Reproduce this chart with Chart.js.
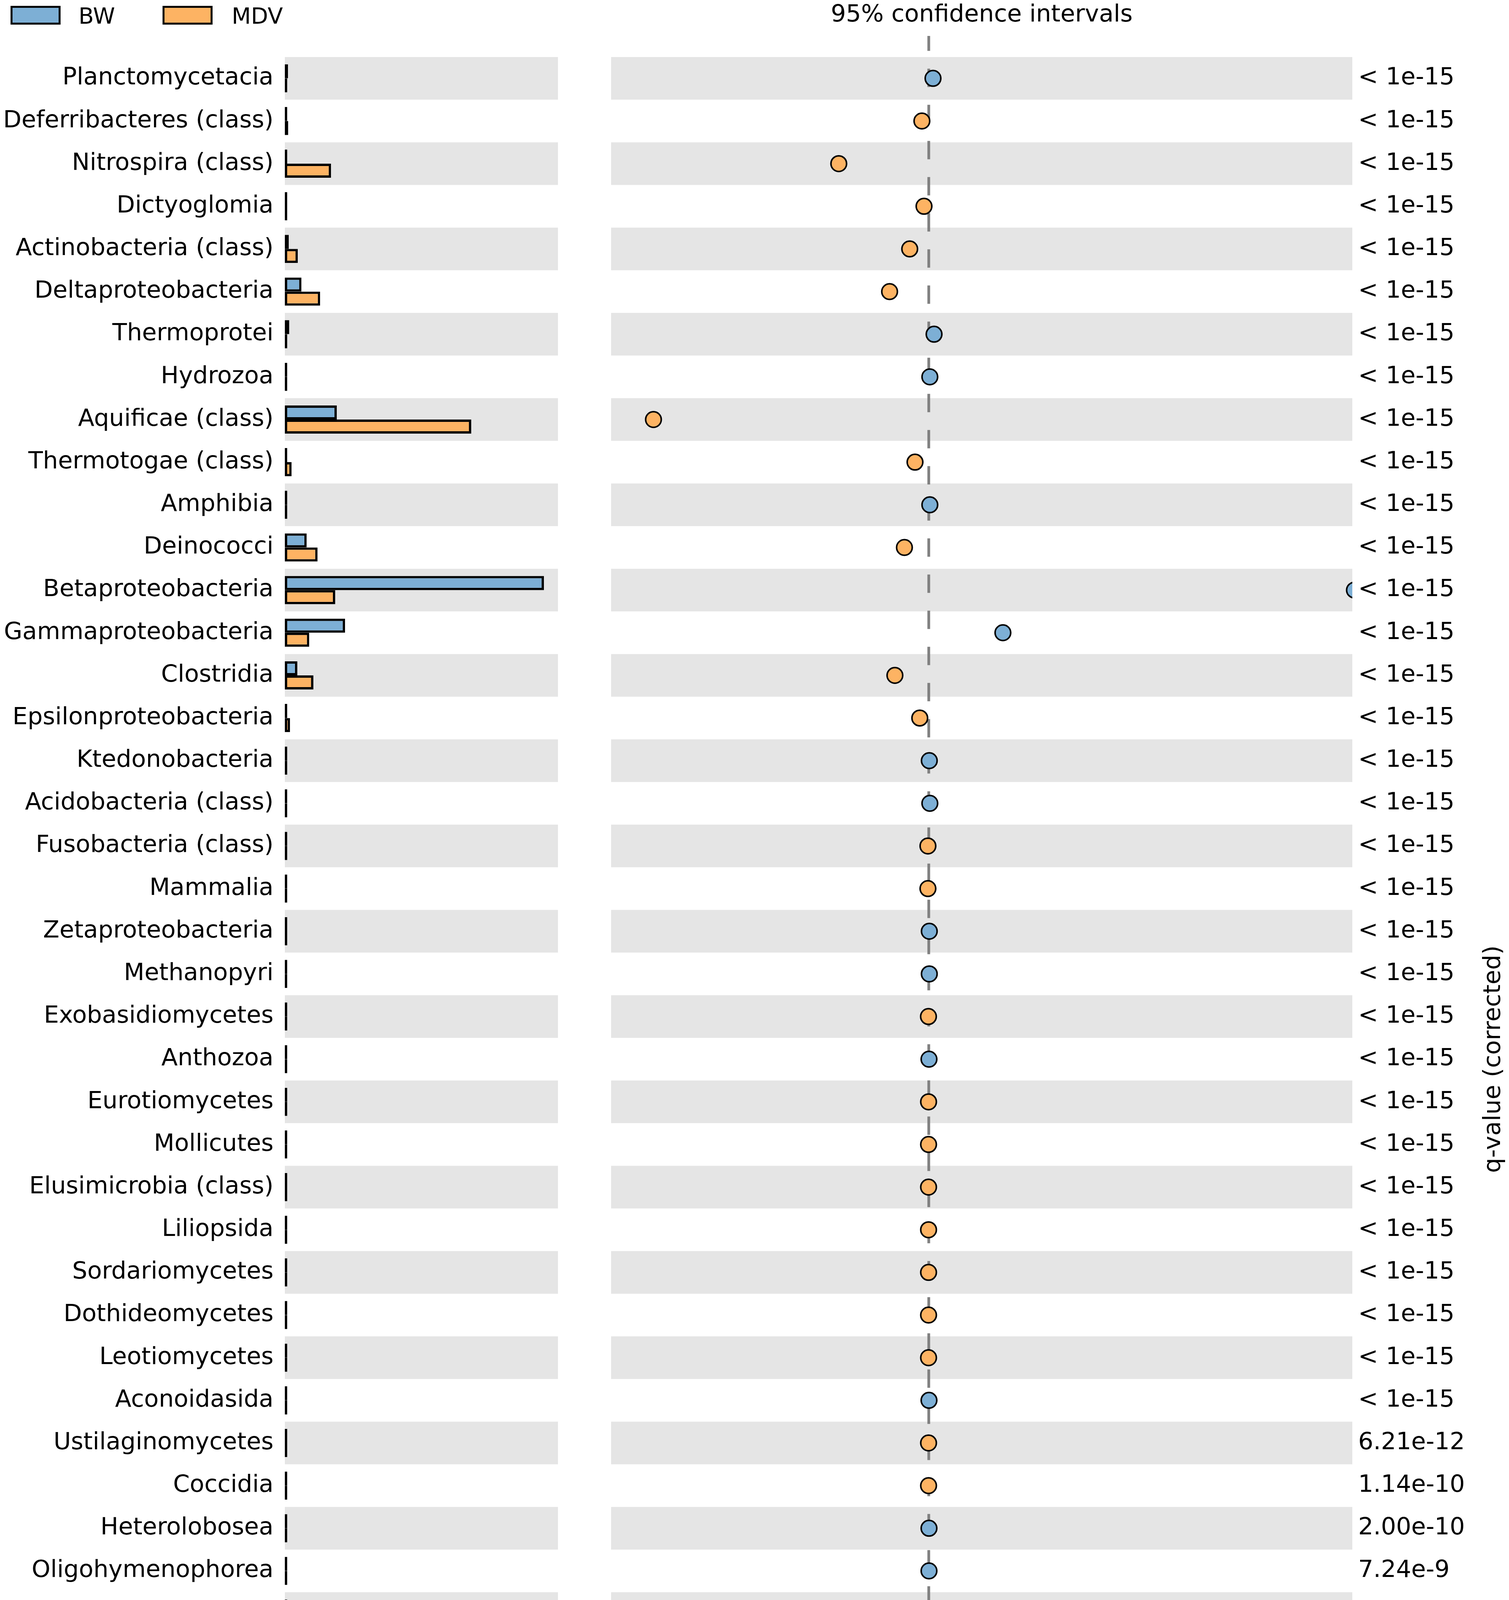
<!DOCTYPE html>
<html>
<head>
<meta charset="utf-8">
<title>BW vs MDV - extended error bar plot</title>
<script src="https://cdn.jsdelivr.net/npm/chart.js@4.4.0/dist/chart.umd.min.js"></script>
<style>
    html, body { margin: 0; padding: 0; background: #ffffff; }
    #wrap { position: relative; width: 3862px; height: 5531px; }
    #wrap canvas { position: absolute; top: 0; }
    #bars { left: 0; }
    #diffs { left: 1440px; }
</style>
</head>
<body>
<div id="wrap">
    <canvas id="bars" width="1480" height="5531"></canvas>
    <canvas id="diffs" width="2422" height="5531"></canvas>
</div>
<script>
// Class names, top to bottom
const categories = [
    'Planctomycetacia', 'Deferribacteres (class)', 'Nitrospira (class)', 'Dictyoglomia',
    'Actinobacteria (class)', 'Deltaproteobacteria', 'Thermoprotei', 'Hydrozoa',
    'Aquificae (class)', 'Thermotogae (class)', 'Amphibia', 'Deinococci',
    'Betaproteobacteria', 'Gammaproteobacteria', 'Clostridia', 'Epsilonproteobacteria',
    'Ktedonobacteria', 'Acidobacteria (class)', 'Fusobacteria (class)', 'Mammalia',
    'Zetaproteobacteria', 'Methanopyri', 'Exobasidiomycetes', 'Anthozoa',
    'Eurotiomycetes', 'Mollicutes', 'Elusimicrobia (class)', 'Liliopsida',
    'Sordariomycetes', 'Dothideomycetes', 'Leotiomycetes', 'Aconoidasida',
    'Ustilaginomycetes', 'Coccidia', 'Heterolobosea', 'Oligohymenophorea',
    'Bangiophyceae', 'Trematoda', 'Tremellomycetes', 'Chlorokybophyceae',
    'Pelagophyceae', 'Florideophyceae', 'Pezizomycetes', 'Ascidiacea',
    'Cryptophyta', 'Demospongiae', 'Marchantiopsida'
];

// Mean proportion (%) in each group
const bwProportion = [
    0.6, 0.05, 0.4, 0.05,
    0.75, 3.2, 0.85, 0.1,
    10.0, 0.05, 0.1, 4.2,
    49.9, 11.6, 2.4, 0.1,
    0.12, 0.2, 0.08, 0.05,
    0.1, 0.08, 0.02, 0.05,
    0.02, 0.02, 0.03, 0.02,
    0.02, 0.02, 0.02, 0.04,
    0.01, 0.01, 0.03, 0.03,
    0.01, 0.01, 0.01, 0.01,
    0.02, 0.01, 0.01, 0.02,
    0.01, 0.02, 0.01
];
const mdvProportion = [
    0.05, 0.65, 8.9, 0.45,
    2.5, 6.8, 0.05, 0.03,
    35.9, 1.3, 0.02, 6.3,
    9.7, 4.7, 5.5, 1.0,
    0.05, 0.1, 0.15, 0.12,
    0.05, 0.03, 0.05, 0.03,
    0.04, 0.04, 0.05, 0.04,
    0.04, 0.04, 0.04, 0.02,
    0.03, 0.03, 0.01, 0.01,
    0.02, 0.02, 0.02, 0.02,
    0.01, 0.02, 0.02, 0.01,
    0.02, 0.01, 0.02
];

// Difference between proportions (%), BW minus MDV
const diffValues = [
    0.4, -0.65, -8.5, -0.45,
    -1.8, -3.7, 0.5, 0.1,
    -26.0, -1.3, 0.1, -2.3,
    40.2, 7.0, -3.2, -0.85,
    0.05, 0.1, -0.08, -0.08,
    0.05, 0.05, -0.03, 0.02,
    -0.02, -0.02, -0.02, -0.02,
    -0.02, -0.02, -0.02, 0.02,
    -0.02, -0.02, 0.02, 0.02,
    -0.01, -0.01, -0.01, -0.01,
    0.01, -0.01, -0.01, 0.01,
    -0.01, 0.01, -0.01
];

// Corrected q-values shown on the right
const qValues = [
    '< 1e-15', '< 1e-15', '< 1e-15', '< 1e-15', '< 1e-15', '< 1e-15', '< 1e-15', '< 1e-15',
    '< 1e-15', '< 1e-15', '< 1e-15', '< 1e-15', '< 1e-15', '< 1e-15', '< 1e-15', '< 1e-15',
    '< 1e-15', '< 1e-15', '< 1e-15', '< 1e-15', '< 1e-15', '< 1e-15', '< 1e-15', '< 1e-15',
    '< 1e-15', '< 1e-15', '< 1e-15', '< 1e-15', '< 1e-15', '< 1e-15', '< 1e-15', '< 1e-15',
    '6.21e-12', '1.14e-10', '2.00e-10', '7.24e-9', '1.24e-8', '3.51e-6', '2.47e-5', '5.57e-4',
    '5.09e-3', '5.89e-3', '8.99e-3', '0.011', '0.011', '0.024', '0.038'
];

// Tick values for the two bottom axes
const proportionTicks = [0, 49.9];
const differenceTicks = [-30, -20, -10, 0, 10, 20, 30, 40];

const BLUE = '#7dafd5';
const ORANGE = '#fdb363';
const BAND = '#e5e5e5';
const AXIS_GREY = '#808080';
const FONT = 'DejaVu Sans';
const FONT_SIZE = 61;
const SPINE_Y = 5330;

Chart.defaults.font.family = FONT;
Chart.defaults.font.size = FONT_SIZE;
Chart.defaults.color = '#000000';

/**
 * Alternating grey bands behind every other row
 */
const rowBands = {
    id: 'rowBands',
    beforeDatasetsDraw(chart) {
        const { ctx, chartArea } = chart;
        const yScale = chart.scales.y;
        const rowHeight = chartArea.height / categories.length;
        ctx.save();
        ctx.fillStyle = BAND;
        categories.forEach((c, i) => {
            if (i % 2 !== 0) return;
            const y = yScale.getPixelForValue(i);
            ctx.fillRect(chartArea.left, y - rowHeight / 2, chartArea.width, rowHeight);
        });
        ctx.restore();
    }
};

/**
 * Bottom spine pushed outward, with small ticks pointing up
 */
const offsetSpine = {
    id: 'offsetSpine',
    afterDraw(chart) {
        const { ctx } = chart;
        const x = chart.scales.x;
        ctx.save();
        ctx.strokeStyle = AXIS_GREY;
        ctx.lineWidth = 5;
        ctx.beginPath();
        ctx.moveTo(x.left - 3, SPINE_Y);
        ctx.lineTo(x.right + 1, SPINE_Y);
        ctx.stroke();
        ctx.lineWidth = 3;
        x.ticks.forEach(t => {
            const px = x.getPixelForValue(t.value);
            ctx.beginPath();
            ctx.moveTo(px, SPINE_Y);
            ctx.lineTo(px, SPINE_Y - 31);
            ctx.stroke();
        });
        ctx.restore();
    }
};

/**
 * Legend boxes in the top-left corner
 */
const groupLegend = {
    id: 'groupLegend',
    afterDraw(chart) {
        const { ctx } = chart;
        const slots = [{ box: 29.5, text: 201 }, { box: 418.5, text: 593 }];
        ctx.save();
        chart.data.datasets.forEach((ds, i) => {
            const s = slots[i];
            ctx.fillStyle = ds.backgroundColor;
            ctx.fillRect(s.box, 17.5, 123, 43);
            ctx.strokeStyle = '#000000';
            ctx.lineWidth = 5;
            ctx.strokeRect(s.box, 17.5, 123, 43);
            ctx.fillStyle = '#000000';
            ctx.font = '57px "' + FONT + '"';
            ctx.textBaseline = 'alphabetic';
            ctx.fillText(ds.label, s.text, 61);
        });
        ctx.restore();
    }
};

/**
 * Zero line, panel title and q-value axis title for the difference panel
 */
const diffDecor = {
    id: 'diffDecor',
    beforeDatasetsDraw(chart) {
        const { ctx } = chart;
        const px = chart.scales.x.getPixelForValue(0);
        ctx.save();
        ctx.strokeStyle = AXIS_GREY;
        ctx.lineWidth = 7;
        ctx.setLineDash([47, 45.5]);
        ctx.lineDashOffset = 8.7;
        ctx.beginPath();
        ctx.moveTo(px, 92);
        ctx.lineTo(px, SPINE_Y);
        ctx.stroke();
        ctx.restore();
    },
    afterDraw(chart) {
        const { ctx, chartArea } = chart;
        ctx.save();
        ctx.fillStyle = '#000000';
        ctx.font = FONT_SIZE + 'px "' + FONT + '"';
        ctx.textAlign = 'center';
        ctx.textBaseline = 'alphabetic';
        ctx.fillText('95% confidence intervals', (chartArea.left + chartArea.right) / 2, 55);
        ctx.translate(2383, (chartArea.top + chartArea.bottom) / 2);
        ctx.rotate(-Math.PI / 2);
        ctx.textBaseline = 'middle';
        ctx.fillText('q-value (corrected)', 0, 0);
        ctx.restore();
    }
};

// Left panel: group proportions
new Chart(document.getElementById('bars'), {
    type: 'bar',
    data: {
        labels: categories,
        datasets: [
            {
                label: 'BW',
                data: bwProportion,
                backgroundColor: BLUE,
                borderColor: '#000000',
                borderWidth: 6,
                borderSkipped: false,
                minBarLength: 6,
                barPercentage: 1.0,
                categoryPercentage: 0.66
            },
            {
                label: 'MDV',
                data: mdvProportion,
                backgroundColor: ORANGE,
                borderColor: '#000000',
                borderWidth: 6,
                borderSkipped: false,
                minBarLength: 6,
                barPercentage: 1.0,
                categoryPercentage: 0.66
            }
        ]
    },
    options: {
        indexAxis: 'y',
        responsive: false,
        animation: false,
        devicePixelRatio: 1,
        layout: { padding: { top: 146, right: 52, bottom: 0, left: 0 } },
        plugins: {
            legend: { display: false },
            tooltip: { enabled: false }
        },
        scales: {
            x: {
                type: 'linear',
                min: 0,
                max: 52.6,
                grid: { display: false, drawTicks: true, tickLength: 74 },
                border: { display: false },
                afterBuildTicks: scale => { scale.ticks = proportionTicks.map(v => ({ value: v })); },
                afterFit: scale => { scale.height = 254; },
                ticks: {
                    padding: 0,
                    autoSkip: false,
                    maxRotation: 0,
                    callback: v => Number(v).toFixed(1)
                },
                title: { display: true, text: 'Proportion (%)', padding: { top: 0, bottom: 2 } }
            },
            y: {
                grid: { display: false, drawTicks: false },
                border: { display: false },
                afterFit: scale => { scale.width = 729; },
                ticks: { padding: 29, autoSkip: false }
            }
        }
    },
    plugins: [rowBands, offsetSpine, groupLegend]
});

// Right panel: difference between proportions
new Chart(document.getElementById('diffs'), {
    type: 'line',
    data: {
        labels: categories,
        datasets: [{
            label: 'Difference',
            data: diffValues,
            showLine: false,
            pointRadius: 20,
            pointHoverRadius: 20,
            pointBorderWidth: 4,
            pointBorderColor: '#000000',
            pointBackgroundColor: diffValues.map(d => (d >= 0 ? BLUE : ORANGE)),
            clip: 0
        }]
    },
    options: {
        indexAxis: 'y',
        responsive: false,
        animation: false,
        devicePixelRatio: 1,
        layout: { padding: { top: 146, right: 0, bottom: 0, left: 124 } },
        plugins: {
            legend: { display: false },
            tooltip: { enabled: false }
        },
        scales: {
            x: {
                type: 'linear',
                min: -30,
                max: 40,
                grid: { display: false, drawTicks: true, tickLength: 74 },
                border: { display: false },
                afterBuildTicks: scale => { scale.ticks = differenceTicks.map(v => ({ value: v })); },
                afterFit: scale => { scale.height = 254; },
                ticks: {
                    padding: 0,
                    autoSkip: false,
                    maxRotation: 0,
                    callback: v => String(v).replace('-', '\u2212')
                },
                title: { display: true, text: 'Difference between proportions (%)', padding: { top: 0, bottom: 2 } }
            },
            y: {
                type: 'category',
                offset: true,
                display: false
            },
            yq: {
                type: 'category',
                position: 'right',
                labels: qValues,
                offset: true,
                grid: { display: false, drawTicks: false },
                border: { display: false },
                afterFit: scale => { scale.width = 401; },
                ticks: { padding: 15, autoSkip: false }
            }
        }
    },
    plugins: [rowBands, offsetSpine, diffDecor]
});
</script>
</body>
</html>
